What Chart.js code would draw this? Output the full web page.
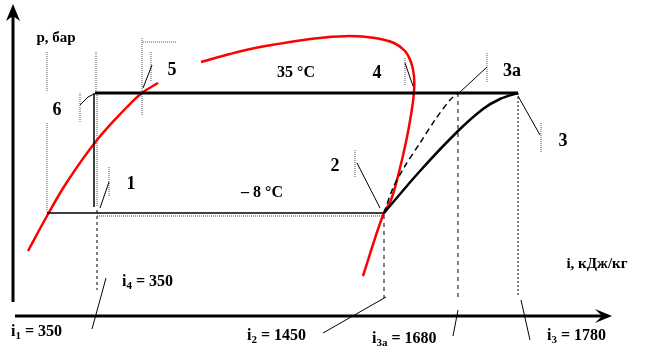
<!DOCTYPE html>
<html>
<head>
<meta charset="utf-8">
<script src="https://cdn.jsdelivr.net/npm/chart.js@4"></script>
<style>
html, body { margin: 0; padding: 0; background: #fff; }
#wrap { width: 654px; height: 357px; }
</style>
</head>
<body>
<div id="wrap"><canvas id="myChart"></canvas></div>
<script>
// diagram coordinates (x to the right, y downward, same units as the sheet)
const axisY = [[13, 302], [13, 10]];
const axisX = [[15, 316], [606, 316]];

const liquidBranch = [[28, 251], [47, 216], [67, 182], [97, 140], [127, 107], [142, 93], [158, 83]];
const vaporBranch = [[201, 62], [230, 54], [260, 47], [290, 42], [320, 38], [350, 36], [375, 38],
    [394, 43], [405, 51], [411, 62], [414, 76], [414, 92], [411, 115], [406, 142], [399, 172],
    [391, 200], [383, 215], [363, 276]];

const condensing = [[95, 93], [518, 93]];
const throttling = [[94, 93], [94, 207]];
const throttlingDots = [[97, 93], [97, 207]];
const evaporating = [[47, 213], [384, 213]];
const evaporatingDots = [[97, 216], [384, 216]];

const compressionReal = [[384, 213], [420, 171], [457, 132], [483, 109], [500, 99], [518, 93]];
const compressionIdeal = [[384, 213], [393, 188], [405, 166], [420, 143], [435, 120], [450, 100], [458, 93]];

const dropI4 = [[97, 210], [97, 290]];
const dropI2 = [[384, 215], [384, 298]];
const dropI3a = [[458, 93], [458, 298]];
const dropI3 = [[518, 93], [518, 297]];

const leaders = [
    [[106, 278], [92, 329]],
    [[386, 297], [323, 333]],
    [[458, 310], [453, 336]],
    [[521, 300], [530, 340]],
    [[143, 88], [152, 65]],
    [[80, 105], [88, 97], [94, 94]],
    [[100, 208], [109, 182]],
    [[405, 63], [413, 86]],
    [[357, 163], [380, 208]],
    [[487, 67], [459, 93]],
    [[518, 96], [540, 135]]
];

const dottedMarks = [
    [[47, 52], [47, 92]],
    [[47, 123], [47, 213]],
    [[96, 52], [96, 93]],
    [[142, 38], [142, 115]],
    [[143, 42], [176, 42]],
    [[151, 52], [151, 82]],
    [[80, 93], [80, 123]],
    [[109, 167], [109, 197]],
    [[405, 58], [405, 85]],
    [[355, 150], [355, 178]],
    [[487, 53], [487, 83]],
    [[541, 123], [541, 153]]
];

const pointLabels = ['5', '6', '4', '3а', '3', '1', '2'];
const pointLabelPos = [[172, 70], [57, 110], [377, 73], [512, 71], [563, 141], [131, 184], [335, 166]];

const tempLabels = ['35 °C', '– 8 °C'];
const tempLabelPos = [[296, 73], [262, 193]];

const axisTitles = ['p, бар', 'i, кДж/кг'];
const axisTitlePos = [[56, 38], [597, 264]];

const enthalpyNames = ['4', '1', '2', '3а', '3'];
const enthalpyValues = [350, 350, 1450, 1680, 1780];
const enthalpyPos = [[122, 282], [11, 332], [247, 336], [372, 339], [547, 336]];

const pts = arr => arr.map(p => ({ x: p[0], y: p[1] }));

const line = (arr, color, width, extra = {}) => ({
    data: pts(arr),
    showLine: true,
    borderColor: color,
    borderWidth: width,
    pointRadius: 0,
    fill: false,
    ...extra
});

const datasets = [
    line(axisY, '#000', 3),
    line(axisX, '#000', 3),
    line(condensing, '#000', 3),
    line(throttling, '#000', 1.5),
    line(throttlingDots, '#444', 1, { borderDash: [1, 1] }),
    line(evaporating, '#000', 1.5),
    line(evaporatingDots, '#444', 1, { borderDash: [1, 1] }),
    line(compressionReal, '#000', 2.5, { tension: 0.35 }),
    line(compressionIdeal, '#000', 1.5, { borderDash: [6, 4], tension: 0.3 }),
    line(dropI4, '#000', 1, { borderDash: [3, 3] }),
    line(dropI2, '#000', 1, { borderDash: [4, 4] }),
    line(dropI3a, '#000', 1, { borderDash: [4, 4] }),
    line(dropI3, '#000', 1, { borderDash: [2, 2] }),
    ...leaders.map(l => line(l, '#000', 1)),
    ...dottedMarks.map(l => line(l, '#555', 1, { borderDash: [1, 1] })),
    line(liquidBranch, '#ff0000', 2.5, { tension: 0.4 }),
    line(vaporBranch, '#ff0000', 2.5, { tension: 0.4 })
];

const textPlugin = {
    id: 'diagramText',
    afterDatasetsDraw(chart) {
        const c = chart.ctx;
        const sx = chart.scales.x;
        const sy = chart.scales.y;
        const px = p => [sx.getPixelForValue(p[0]), sy.getPixelForValue(p[1])];

        // arrow heads
        c.save();
        c.fillStyle = '#000';
        let [ax, ay] = px([13, 4]);
        c.beginPath();
        c.moveTo(ax, ay);
        c.lineTo(ax - 7, ay + 17);
        c.lineTo(ax, ay + 12);
        c.lineTo(ax + 7, ay + 17);
        c.closePath();
        c.fill();
        [ax, ay] = px([612, 316]);
        c.beginPath();
        c.moveTo(ax, ay);
        c.lineTo(ax - 17, ay - 7);
        c.lineTo(ax - 10, ay);
        c.lineTo(ax - 17, ay + 7);
        c.closePath();
        c.fill();

        c.textBaseline = 'middle';
        c.fillStyle = '#000';
        const font = size => `bold ${size}px "Liberation Serif", "Times New Roman", serif`;

        c.textAlign = 'center';
        c.font = font(18);
        pointLabels.forEach((t, i) => {
            const [x, y] = px(pointLabelPos[i]);
            c.fillText(t, x, y);
        });
        c.font = font(16);
        tempLabels.forEach((t, i) => {
            const [x, y] = px(tempLabelPos[i]);
            c.fillText(t, x, y);
        });
        c.font = font(15);
        axisTitles.forEach((t, i) => {
            const [x, y] = px(axisTitlePos[i]);
            c.fillText(t, x, y);
        });

        c.textAlign = 'left';
        enthalpyNames.forEach((n, i) => {
            let [x, y] = px(enthalpyPos[i]);
            c.font = font(16);
            c.fillText('i', x, y);
            x += c.measureText('i').width;
            c.font = font(11);
            c.fillText(n, x, y + 4);
            x += c.measureText(n).width;
            c.font = font(16);
            c.fillText(' = ' + enthalpyValues[i], x, y);
        });
        c.restore();
    }
};

const ctx = document.getElementById('myChart');
new Chart(ctx, {
    type: 'scatter',
    data: { datasets },
    options: {
        responsive: true,
        maintainAspectRatio: false,
        animation: false,
        layout: { padding: 0 },
        plugins: { legend: { display: false }, tooltip: { enabled: false } },
        scales: {
            x: { type: 'linear', min: 0, max: 654, display: false },
            y: { type: 'linear', min: 0, max: 357, reverse: true, display: false }
        }
    },
    plugins: [textPlugin]
});
</script>
</body>
</html>
